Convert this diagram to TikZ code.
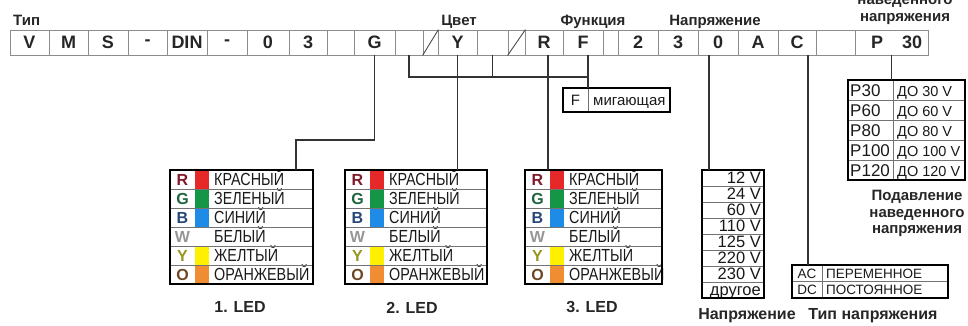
\documentclass[tikz,border=0pt]{standalone}
\usepackage{fontspec}
\setmainfont{Liberation Sans}
\newfontfamily\narrowfont[FakeStretch=0.82]{Liberation Sans}
\usetikzlibrary{fit,calc}
\definecolor{swR}{RGB}{230,40,40}
\definecolor{swG}{RGB}{20,150,70}
\definecolor{swB}{RGB}{30,140,230}
\definecolor{swW}{RGB}{255,255,255}
\definecolor{swY}{RGB}{255,240,0}
\definecolor{swO}{RGB}{240,140,50}
\definecolor{lR}{RGB}{130,25,40}
\definecolor{lG}{RGB}{30,100,60}
\definecolor{lB}{RGB}{40,70,120}
\definecolor{lW}{RGB}{150,150,150}
\definecolor{lY}{RGB}{150,150,30}
\definecolor{lO}{RGB}{110,70,35}
\tikzset{
  cellbox/.style={draw=black!45, line width=0.8pt, inner sep=0pt, minimum height=25pt, font=\fontsize{18}{18}\selectfont\bfseries, text=black!85},
  lbl/.style={font=\fontsize{15}{15}\selectfont\bfseries, inner sep=0pt, text=black!85, anchor=base},
  biglbl/.style={font=\fontsize{16}{16}\selectfont\bfseries, inner sep=0pt, text=black!85, anchor=base},
  conn/.style={line width=1.4pt, black!80},
  frame/.style={line width=2.2pt, black},
  rowline/.style={line width=0.6pt, black!55},
  slashline/.style={line width=0.9pt, black!70},
  ledtxt/.style={font=\fontsize{17.5}{17.5}\selectfont\narrowfont, inner sep=0pt, anchor=base west, text=black!90},
  ledletter/.style={font=\fontsize{16}{16}\selectfont\bfseries, inner sep=0pt, anchor=base},
  voltxt/.style={font=\fontsize{16.5}{16.5}\selectfont, inner sep=0pt, anchor=base east, text=black!90},
  typtxt/.style={font=\fontsize{13.5}{13.5}\selectfont, inner sep=0pt, anchor=base, text=black!90},
  ptxt/.style={font=\fontsize{17}{17}\selectfont, inner sep=0pt, anchor=base west, text=black!90},
  dotxt/.style={font=\fontsize{14.5}{14.5}\selectfont, inner sep=0pt, anchor=base west, text=black!90},
  ftxt/.style={font=\fontsize{15}{15}\selectfont, inner sep=0pt, anchor=base, text=black!90},
  boxnode/.style={inner sep=0pt, draw=none},
}
\newcommand\ledtable[4]{%
  \foreach \i/\sw/\lc/\lt/\tx in {0/swR/lR/R/КРАСНЫЙ,1/swG/lG/G/ЗЕЛЕНЫЙ,2/swB/lB/B/СИНИЙ,3/swW/lW/W/БЕЛЫЙ,4/swY/lY/Y/ЖЕЛТЫЙ,5/swO/lO/O/ОРАНЖЕВЫЙ}{
    \fill[\sw] (#2+25,{#3+19*\i}) rectangle (#2+39,{#3+19*(\i+1)});
    \node[ledletter, text=\lc] (#1-l\i) at (#2+12.5,{#3+19*\i+15.2}) {\lt};
    \node[ledtxt] (#1-t\i) at (#2+44,{#3+19*\i+15.7}) {\tx};
  }
  \foreach \i in {1,...,5}{\draw[rowline] (#2,{#3+19*\i}) -- (#4,{#3+19*\i});}
  \node[boxnode, fit={(#2,#3) (#4,{#3+114})}] (#1) {};
  \draw[frame] (#1.north west) rectangle (#1.south east);
}
\begin{document}
\begin{tikzpicture}[x=1pt, y=-1pt]
\useasboundingbox (0,0) rectangle (968,325);
% code row
\foreach \l/\r/\t/\n in {10/49/V/c1, 49/88/M/c2, 88/128/S/c3, 128/167/-/c4, 167/207/DIN/c5, 207/247/-/c6, 247/289/0/c7, 289/327/3/c8, 327/354//c9, 354/395/G/c10, 395/423//c11, 423/438//c12, 438/477/Y/c13, 477/508//c14, 508/525//c15, 525/563/R/c16, 563/603/F/c17, 603/618//c18, 618/658/2/c19, 658/698/3/c20, 698/738/0/c21, 738/778/A/c22, 778/816/C/c23, 816/855//c24, 855/928//c25}{
  \node[cellbox, minimum width={(\r-\l)*1pt}] (\n) at ({(\l+\r)/2},42.5) {\t};
}
\node[cellbox, draw=none, minimum width=0pt, minimum height=0pt] (pP) at (877,42.5) {P};
\node[cellbox, draw=none, minimum width=0pt, minimum height=0pt] (p30) at (912,42.5) {30};
\draw[slashline] (c12.south west) -- (c12.north east);
\draw[slashline] (c15.south west) -- (c15.north east);
% top labels
\node[lbl, anchor=base west] (lTip) at (13,25) {Тип};
\node[lbl] (lCvet) at (459,25) {Цвет};
\node[lbl] (lFunk) at (593,25) {Функция};
\node[lbl] (lNapr) at (715,25) {Напряжение};
\node[lbl] (lPod1) at (905,4) {наведенного};
\node[lbl] (lPod2) at (905,21) {напряжения};
% LED tables
\ledtable{led1}{170}{170}{313}
\ledtable{led2}{345}{170}{487}
\ledtable{led3}{525}{170}{662}
\node[biglbl] (n1) at (240,312) {1. LED};
\node[biglbl] (n2) at (412,313) {2. LED};
\node[biglbl] (n3) at (592,312) {3. LED};
% F box
\node[boxnode, fit={(563,88) (670,112)}] (fbox) {};
\draw[rowline] (588,88) -- (588,112);
\node[ftxt] (fF) at (575.5,105.4) {F};
\node[ftxt, anchor=base west] (fM) at (593,105.4) {мигающая};
\draw[frame] (fbox.north west) rectangle (fbox.south east);
% voltage box
\node[boxnode, fit={(702,170) (764,298)}] (vbox) {};
\foreach \i/\v in {0/12 V,1/24 V,2/60 V,3/110 V,4/125 V,5/220 V,6/230 V,7/другое}{
  \node[voltxt] (v\i) at (761,{170+16*\i+13.9}) {\v};
}
\foreach \i in {1,...,7}{\draw[rowline] (702,{170+16*\i}) -- (764,{170+16*\i});}
\draw[frame] (vbox.north west) rectangle (vbox.south east);
\node[biglbl] (lVolt) at (747,319) {Напряжение};
% type box
\node[boxnode, fit={(792,265) (948,298)}] (tbox) {};
\draw[rowline] (792,281.5) -- (948,281.5);
\draw[rowline] (822,265) -- (822,298);
\node[typtxt] (tAC) at (807,278.1) {AC};
\node[typtxt, anchor=base west] (tAC2) at (826,278.1) {ПЕРЕМЕННОЕ};
\node[typtxt] (tDC) at (807,294.6) {DC};
\node[typtxt, anchor=base west] (tDC2) at (826,294.6) {ПОСТОЯННОЕ};
\draw[frame] (tbox.north west) rectangle (tbox.south east);
\node[biglbl] (lTyp) at (873,319) {Тип напряжения};
% P box
\node[boxnode, fit={(848,80) (965,180)}] (pbox) {};
\foreach \i/\a/\b in {0/P30/ДО 30 V,1/P60/ДО 60 V,2/P80/ДО 80 V,3/P100/ДО 100 V,4/P120/ДО 120 V}{
  \node[ptxt] (pa\i) at (850,{80+20*\i+16.1}) {\a};
  \node[dotxt] (pb\i) at (897,{80+20*\i+16.5}) {\b};
}
\foreach \i in {1,...,4}{\draw[rowline] (848,{80+20*\i}) -- (965,{80+20*\i});}
\draw[rowline] (893,80) -- (893,180);
\draw[frame] (pbox.north west) rectangle (pbox.south east);
\node[lbl] (lS0) at (917,200) {Подавление};
\node[lbl] (lS1) at (917,217) {наведенного};
\node[lbl] (lS2) at (917,233) {напряжения};
% connectors
\coordinate (k1) at (296,140);
\coordinate (bar) at (0,77);
\coordinate (fx) at ([xshift=5pt]c17.south);
\draw[conn] (c10.south) |- (k1) -- (k1 |- led1.north);
\draw[conn] (c13.south) -- (c13.south |- led2.north);
\draw[conn] ([xshift=4pt]c16.south) -- ([xshift=4pt]c16.south |- led3.north);
\draw[conn] (c11.south) |- (bar -| fx);
\draw[conn] (c14.south) -- (c14.south |- bar);
\draw[conn] (fx) -- (fx |- fbox.north);
\draw[conn] ([xshift=-9pt]c21.south) -- ([xshift=-9pt]c21.south |- vbox.north);
\draw[conn] ([xshift=11pt]c23.south) -- ([xshift=11pt]c23.south |- tbox.north);
\draw[conn] (c25.south) -- (c25.south |- pbox.north);
\end{tikzpicture}
\end{document}
